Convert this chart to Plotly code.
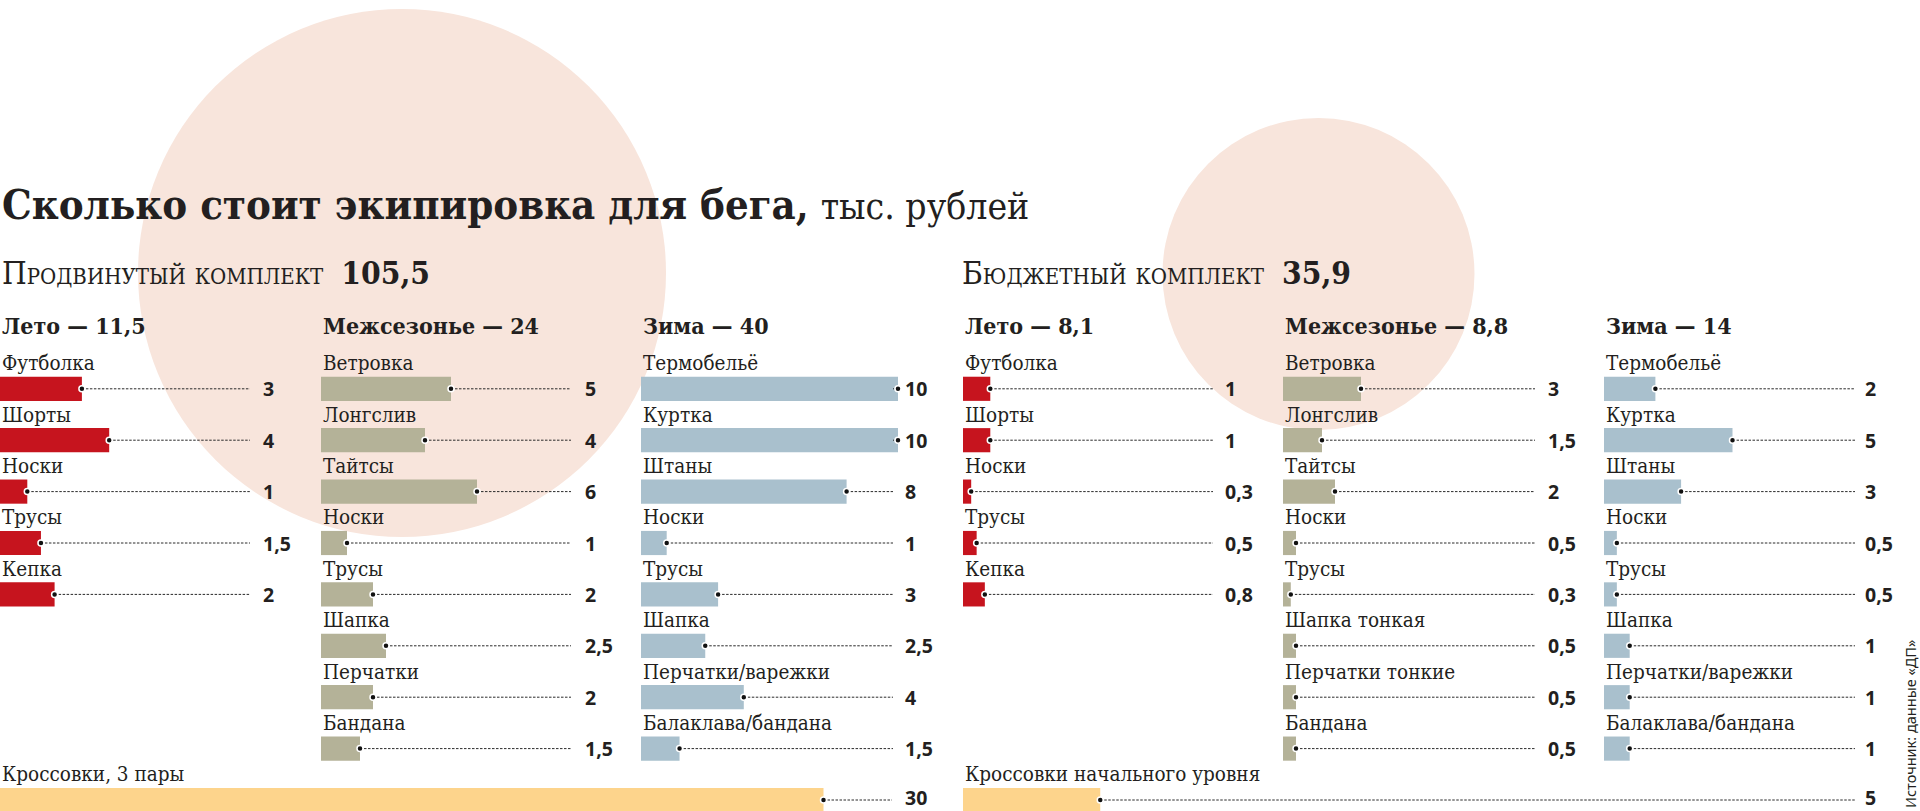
import plotly.graph_objects as go

W, H = 1920, 811

# ---------------- data ----------------
kit_names = ["Продвинутый комплект", "Бюджетный комплект"]
kit_totals = [105.5, 35.9]
season_names = ["Лето", "Межсезонье", "Зима"]
adv_season_totals = [11.5, 24, 40]
bud_season_totals = [8.1, 8.8, 14]

adv_summer_items = ["Футболка", "Шорты", "Носки", "Трусы", "Кепка"]
adv_summer_vals = [3, 4, 1, 1.5, 2]
adv_mid_items = ["Ветровка", "Лонгслив", "Тайтсы", "Носки", "Трусы", "Шапка", "Перчатки", "Бандана"]
adv_mid_vals = [5, 4, 6, 1, 2, 2.5, 2, 1.5]
adv_winter_items = ["Термобельё", "Куртка", "Штаны", "Носки", "Трусы", "Шапка", "Перчатки/варежки", "Балаклава/бандана"]
adv_winter_vals = [10, 10, 8, 1, 3, 2.5, 4, 1.5]

bud_summer_items = ["Футболка", "Шорты", "Носки", "Трусы", "Кепка"]
bud_summer_vals = [1, 1, 0.3, 0.5, 0.8]
bud_mid_items = ["Ветровка", "Лонгслив", "Тайтсы", "Носки", "Трусы", "Шапка тонкая", "Перчатки тонкие", "Бандана"]
bud_mid_vals = [3, 1.5, 2, 0.5, 0.3, 0.5, 0.5, 0.5]
bud_winter_items = ["Термобельё", "Куртка", "Штаны", "Носки", "Трусы", "Шапка", "Перчатки/варежки", "Балаклава/бандана"]
bud_winter_vals = [2, 5, 3, 0.5, 0.5, 1, 1, 1]

sneaker_items = ["Кроссовки, 3 пары", "Кроссовки начального уровня"]
sneaker_vals = [30, 5]

title_bold = "Сколько стоит экипировка для бега,"
title_unit = "тыс. рублей"
source_text = "Источник: данные «ДП»"

# ---------------- style ----------------
RED, KHAKI, BLUE, YELLOW = "#c6141e", "#b4b298", "#a9c0cd", "#fdd48c"
CIRCLE = "#f8e5dc"
INK = "#231f20"
SERIF = "DejaVu Serif Condensed, DejaVu Serif, serif"
SANS = "Noto Sans, DejaVu Sans, sans-serif"

ROW0, PITCH = 388.8, 51.4       # pixel centre of first row and row pitch
BAR_H = 0.47
SNEAKER_ROW = 8


def fmt(v):
    return f"{v:g}".replace(".", ",")


def py(ypix):
    return 1 - ypix / H


# columns: (items, values, colour, start px, px per unit, dotted end px, value text px)
columns = [
    (adv_summer_items, adv_summer_vals, RED, 0, 27.3, 250, 261),
    (adv_mid_items, adv_mid_vals, KHAKI, 321, 26.0, 571, 583),
    (adv_winter_items, adv_winter_vals, BLUE, 641, 25.7, 893, 903),
    (bud_summer_items, bud_summer_vals, RED, 963, 27.3, 1213, 1223),
    (bud_mid_items, bud_mid_vals, KHAKI, 1283, 26.0, 1535, 1546),
    (bud_winter_items, bud_winter_vals, BLUE, 1604, 25.7, 1855, 1863),
    ([sneaker_items[0]], [sneaker_vals[0]], YELLOW, 0, 27.45, 892, 903),
    ([sneaker_items[1]], [sneaker_vals[1]], YELLOW, 963, 27.45, 1855, 1863),
]
row_offsets = [0, 0, 0, 0, 0, 0, SNEAKER_ROW, SNEAKER_ROW]

fig = go.Figure()
annotations = []
layout_axes = {}

for i, ((items, vals, color, start, scale, lend, vx), r0) in enumerate(zip(columns, row_offsets)):
    ax = "x" if i == 0 else f"x{i + 1}"
    span = (1919 - start) if i in (5, 7) else (955 if i == 6 else 315)
    layout_axes["xaxis" if i == 0 else f"xaxis{i + 1}"] = dict(
        domain=[start / W, (start + span) / W], range=[0, span / scale],
        visible=False, anchor="y", fixedrange=True)
    rows = [r0 + k for k in range(len(vals))]
    fig.add_trace(go.Bar(x=vals, y=rows, orientation="h", width=BAR_H,
                         marker=dict(color=color, line=dict(width=0)),
                         xaxis=ax, yaxis="y", hoverinfo="skip", showlegend=False))
    lx, ly = [], []
    end_u = (lend - start) / scale
    for v, r in zip(vals, rows):
        lx += [v, end_u, None]
        ly += [r, r, None]
    fig.add_trace(go.Scatter(x=lx, y=ly, mode="lines",
                             line=dict(color="#2a2a2a", width=1, dash="2.5px,1.5px"),
                             xaxis=ax, yaxis="y", hoverinfo="skip", showlegend=False))
    fig.add_trace(go.Scatter(x=vals, y=rows, mode="markers",
                             marker=dict(color="#111111", size=6, line=dict(color="white", width=1.5)),
                             xaxis=ax, yaxis="y", hoverinfo="skip", showlegend=False, cliponaxis=False))
    vx_u = (vx - start) / scale
    for name, v, r in zip(items, vals, rows):
        annotations.append(dict(x=0, y=r - 0.5, xref=ax, yref="y", text=name,
                                xanchor="left", yanchor="middle", showarrow=False,
                                font=dict(family=SERIF, size=20.5, color=INK)))
        annotations.append(dict(x=vx_u, y=r, xref=ax, yref="y", text=f"<b>{fmt(v)}</b>",
                                xanchor="left", yanchor="middle", showarrow=False,
                                yshift=3 if r == SNEAKER_ROW else 0,
                                font=dict(family=SANS, size=19.5, color=INK)))

# title
annotations.append(dict(x=0, y=py(204), xref="paper", yref="paper", xanchor="left", yanchor="middle",
                        showarrow=False,
                        text=f"<b>{title_bold}</b> <span style='font-size:37px'>{title_unit}</span>",
                        font=dict(family=SERIF, size=41.5, color=INK)))
# kit headers
for name, total, xpx in zip(kit_names, kit_totals, [0, 960]):
    annotations.append(dict(x=xpx / W, y=py(272), xref="paper", yref="paper", xanchor="left",
                            yanchor="middle", showarrow=False,
                            text=f"{name}  <b>{fmt(total)}</b>",
                            font=dict(family=SERIF, size=31.5, color=INK, variant="small-caps")))
# season headers
for totals, starts in [(adv_season_totals, [0, 321, 641]), (bud_season_totals, [963, 1283, 1604])]:
    for sname, t, xpx in zip(season_names, totals, starts):
        annotations.append(dict(x=xpx / W, y=py(326), xref="paper", yref="paper", xanchor="left",
                                yanchor="middle", showarrow=False,
                                text=f"<b>{sname} — {fmt(t)}</b>",
                                font=dict(family=SERIF, size=23, color=INK)))
# source
annotations.append(dict(x=1910 / W, y=py(724), xref="paper", yref="paper", xanchor="center",
                        yanchor="middle", showarrow=False, textangle=-90, text=source_text,
                        font=dict(family=SANS, size=14.5, color=INK)))

shapes = [
    dict(type="circle", xref="paper", yref="paper", layer="below", line=dict(width=0),
         fillcolor=CIRCLE, x0=(402 - 264) / W, x1=(402 + 264) / W, y0=py(273 + 264), y1=py(273 - 264)),
    dict(type="circle", xref="paper", yref="paper", layer="below", line=dict(width=0),
         fillcolor=CIRCLE, x0=(1318.5 - 156) / W, x1=(1318.5 + 156) / W, y0=py(274 + 156), y1=py(274 - 156)),
]

y_top = -ROW0 / PITCH
y_bot = (H - ROW0) / PITCH
fig.update_layout(
    width=W, height=H, margin=dict(l=0, r=0, t=0, b=0),
    paper_bgcolor="white", plot_bgcolor="rgba(0,0,0,0)",
    barmode="overlay", showlegend=False,
    yaxis=dict(domain=[0, 1], range=[y_bot, y_top], visible=False, fixedrange=True),
    annotations=annotations, shapes=shapes,
    **layout_axes,
)

fig.write_html("out.html", config={"displayModeBar": False},
               post_script="document.body.style.margin='0';document.body.style.overflow='hidden';")
